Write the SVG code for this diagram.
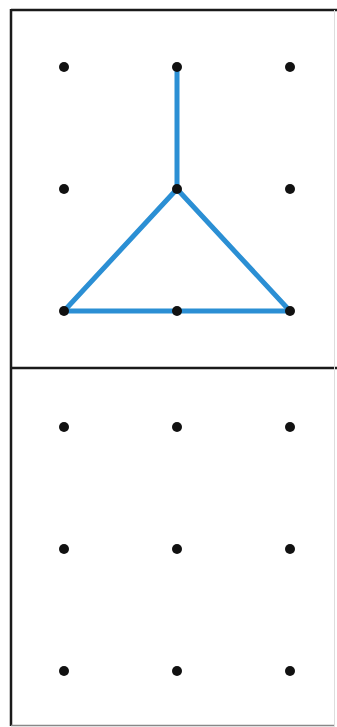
<svg xmlns="http://www.w3.org/2000/svg" width="337" height="727" viewBox="0 0 337 727">
<style>
.dot{fill:#111}
.edge{stroke:#2b8fd4;stroke-width:5;stroke-linecap:round;fill:none}
.frame{stroke:#1a1a1a;fill:none}
</style>
<rect width="337" height="727" fill="#ffffff"/>
<g id="frame">
<line class="frame" x1="11" y1="10" x2="337" y2="10" stroke-width="2.5"/>
<line class="frame" x1="11" y1="9" x2="11" y2="726" stroke-width="2.5"/>
<line class="frame" x1="11" y1="368" x2="337" y2="368" stroke-width="2.5"/>
<line x1="11" y1="725.5" x2="335" y2="725.5" stroke="#888" stroke-width="1.5"/>
<line x1="334.5" y1="10" x2="334.5" y2="726" stroke="#ddd" stroke-width="1"/>
</g>
<g id="connectors">
<line class="edge" x1="177" y1="67" x2="177" y2="189"/>
<line class="edge" x1="177" y1="189" x2="64" y2="311"/>
<line class="edge" x1="177" y1="189" x2="290" y2="311"/>
<line class="edge" x1="64" y1="311" x2="290" y2="311"/>
</g>
<g id="n-t11"><circle class="dot" cx="64" cy="67" r="5"/></g>
<g id="n-t12"><circle class="dot" cx="177" cy="67" r="5"/></g>
<g id="n-t13"><circle class="dot" cx="290" cy="67" r="5"/></g>
<g id="n-t21"><circle class="dot" cx="64" cy="189" r="5"/></g>
<g id="n-t22"><circle class="dot" cx="177" cy="189" r="5"/></g>
<g id="n-t23"><circle class="dot" cx="290" cy="189" r="5"/></g>
<g id="n-t31"><circle class="dot" cx="64" cy="311" r="5"/></g>
<g id="n-t32"><circle class="dot" cx="177" cy="311" r="5"/></g>
<g id="n-t33"><circle class="dot" cx="290" cy="311" r="5"/></g>
<g id="n-b11"><circle class="dot" cx="64" cy="427" r="5"/></g>
<g id="n-b12"><circle class="dot" cx="177" cy="427" r="5"/></g>
<g id="n-b13"><circle class="dot" cx="290" cy="427" r="5"/></g>
<g id="n-b21"><circle class="dot" cx="64" cy="549" r="5"/></g>
<g id="n-b22"><circle class="dot" cx="177" cy="549" r="5"/></g>
<g id="n-b23"><circle class="dot" cx="290" cy="549" r="5"/></g>
<g id="n-b31"><circle class="dot" cx="64" cy="671" r="5"/></g>
<g id="n-b32"><circle class="dot" cx="177" cy="671" r="5"/></g>
<g id="n-b33"><circle class="dot" cx="290" cy="671" r="5"/></g>
</svg>
